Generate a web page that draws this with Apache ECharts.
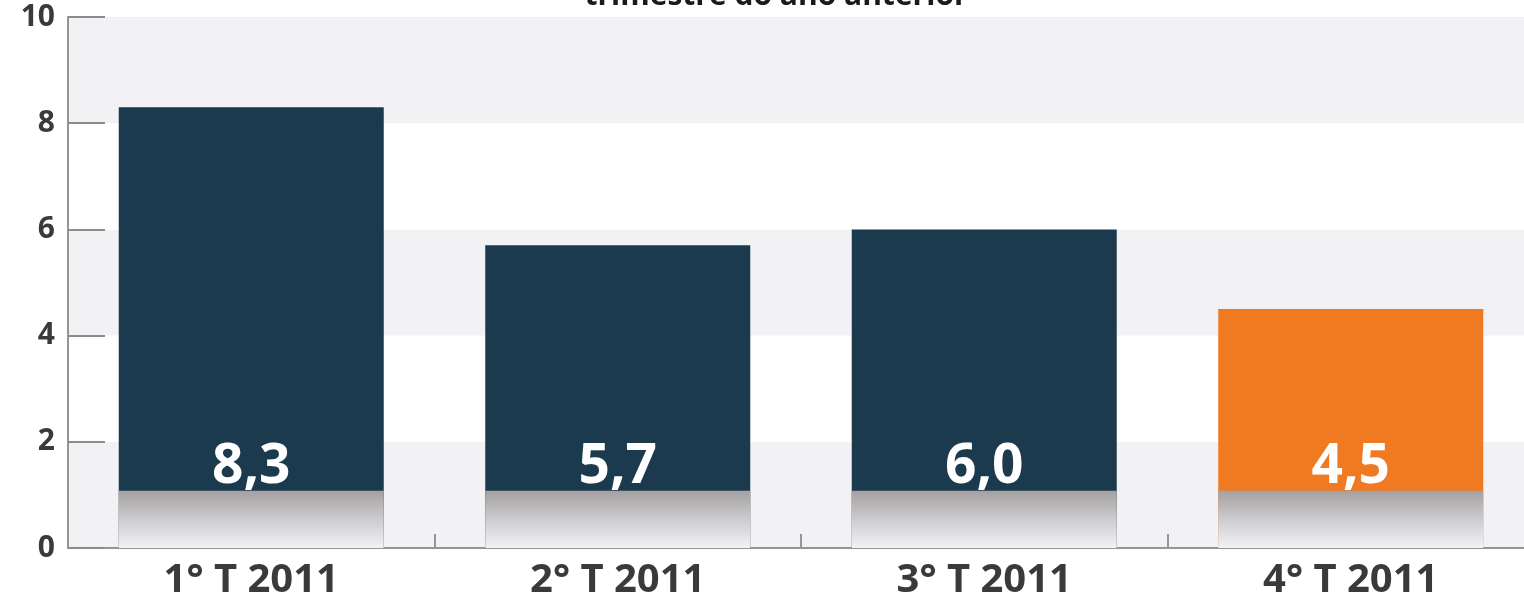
<!DOCTYPE html>
<html>
<head>
<meta charset="utf-8">
<title>trimestre do ano anterior</title>
<script src="https://cdn.jsdelivr.net/npm/echarts@6/dist/echarts.min.js"></script>
<style>
  html, body { margin: 0; padding: 0; background: #ffffff; }
  #chart { width: 1524px; height: 600px; }
</style>
</head>
<body>
<div id="chart"></div>
<script>
// Quarters and growth values (%)
const quarters = ['1° T 2011', '2° T 2011', '3° T 2011', '4° T 2011'];
const growth = [8.3, 5.7, 6.0, 4.5];
const barColors = ['#1b3a4e', '#1b3a4e', '#1b3a4e', '#f07a22'];
const yTicks = [0, 2, 4, 6, 8, 10];
const titleText = 'trimestre do ano anterior';

// Depth of the soft floor shadow drawn over the foot of each bar (axis units)
const SHADOW_DEPTH = 1.08;
const BAR_WIDTH = 265;
const FONT = '"Open Sans", "Liberation Sans", sans-serif';

const fmt = v => v.toFixed(1).replace('.', ',');

const chart = echarts.init(document.getElementById('chart'), null, { renderer: 'canvas' });

chart.setOption({
  backgroundColor: '#ffffff',
  animation: false,
  title: {
    text: titleText,
    left: 771,
    textAlign: 'center',
    top: -24,
    textStyle: { fontFamily: FONT, fontSize: 30, fontWeight: 'bold', color: '#1a1a1a' }
  },
  // plot area runs a little past the right edge of the canvas
  grid: {
    left: 68, width: 1466, top: 17, bottom: 52,
    containLabel: false,
    outerBoundsMode: 'none'
  },
  xAxis: {
    type: 'category',
    data: quarters,
    axisLine: { show: true, lineStyle: { color: '#959595', width: 2 } },
    axisTick: { show: true, inside: true, length: 14, lineStyle: { color: '#959595', width: 2 } },
    axisLabel: {
      fontFamily: FONT, fontSize: 40, fontWeight: 'bold', color: '#3a3a3a', margin: 13
    },
    splitLine: { show: false }
  },
  yAxis: {
    type: 'value',
    min: yTicks[0],
    max: yTicks[yTicks.length - 1],
    interval: yTicks[1] - yTicks[0],
    axisLine: { show: true, lineStyle: { color: '#959595', width: 2 } },
    axisTick: { show: true, inside: true, length: 37, lineStyle: { color: '#8c8c8c', width: 2 } },
    axisLabel: {
      fontFamily: FONT, fontSize: 30, fontWeight: 'bold', color: '#3a3a3a', margin: 13
    },
    splitLine: { show: false },
    splitArea: { show: true, areaStyle: { color: ['#f2f2f4', '#ffffff'] } }
  },
  series: [
    {
      name: 'crescimento',
      type: 'bar',
      data: growth.map((v, i) => ({ value: v, itemStyle: { color: barColors[i] } })),
      barWidth: BAR_WIDTH,
      z: 2,
      label: {
        show: true,
        position: 'insideBottom',
        distance: 53,
        formatter: p => fmt(p.value),
        fontFamily: FONT,
        fontSize: 55,
        lineHeight: 55,
        fontWeight: 'bold',
        color: '#ffffff'
      }
    },
    {
      name: 'sombra',
      type: 'bar',
      data: quarters.map(() => SHADOW_DEPTH),
      barWidth: BAR_WIDTH,
      barGap: '-100%',
      z: 3,
      silent: true,
      itemStyle: {
        color: new echarts.graphic.LinearGradient(0, 0, 0, 1, [
          { offset: 0, color: '#a5a0a1' },
          { offset: 0.45, color: '#c8c7c9' },
          { offset: 1, color: '#f3f3f5' }
        ])
      },
      label: { show: false }
    }
  ]
});
</script>
</body>
</html>
